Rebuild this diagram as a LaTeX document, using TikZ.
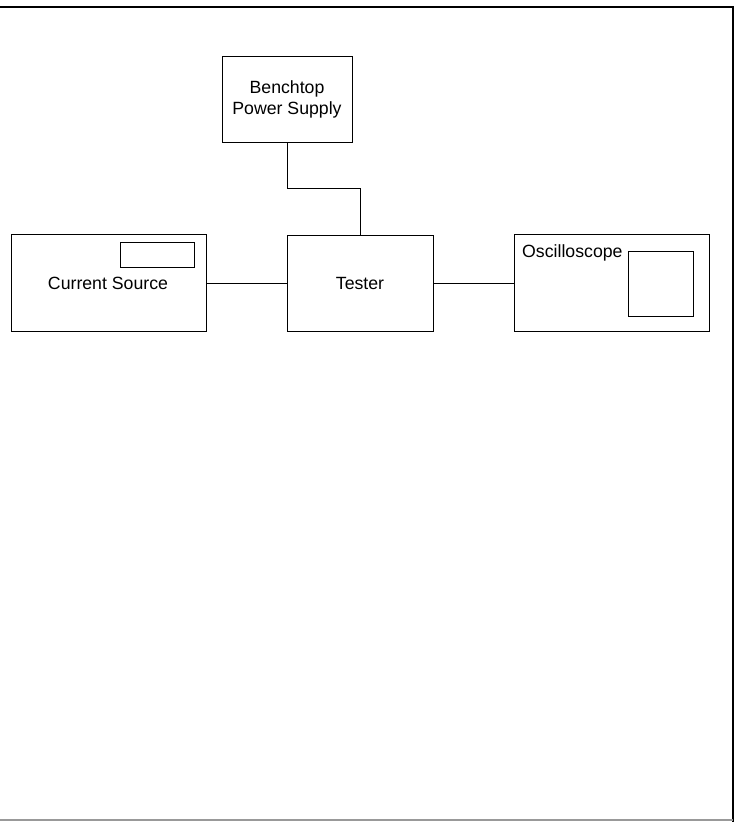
\documentclass[tikz,border=0pt]{standalone}
\usepackage{fontspec}
\setmainfont{Liberation Sans}
\begin{document}
\begin{tikzpicture}[x=1pt,y=-1pt,
  box/.style={draw=black,line width=1pt,inner sep=0pt,align=center,
    font=\fontsize{17.7}{21}\selectfont},
  wire/.style={draw=black,line width=1pt}]
\useasboundingbox (0,0) rectangle (735,822);
% frame
\draw[line width=2.5pt] (0,7) -- (733,7) -- (733,822);
\draw[gray!80,line width=1.5pt] (0,820) -- (733,820);
% boxes
\node[box,minimum width=130pt,minimum height=86pt] (ps) at (287,99) {Benchtop\\Power Supply};
\node[box,minimum width=195pt,minimum height=97pt] (cs) at (108.5,283) {};
\node[font=\fontsize{17.7}{21}\selectfont] (cst) at (108,283) {Current Source};
\node[draw,line width=1pt,minimum width=74pt,minimum height=25pt,inner sep=0pt] (csd) at (157,254.5) {};
\node[box,minimum width=146pt,minimum height=96pt] (ts) at (360,283) {Tester};
\node[box,minimum width=195pt,minimum height=97pt] (os) at (611.5,283) {};
\node[font=\fontsize{17.7}{21}\selectfont,anchor=west,inner sep=0pt] (ost) at (522,253) {Oscilloscope};
\node[draw,line width=1pt,minimum width=65pt,minimum height=65pt,inner sep=0pt] (osd) at (660.5,283.5) {};
% wires
\coordinate (b1) at (287,188);
\coordinate (b2) at (360,188);
\draw[wire] (ps.south) -- (b1) -- (b2) -- (ts.north);
\draw[wire] (cs.east) -- (ts.west);
\draw[wire] (ts.east) -- (os.west);
\end{tikzpicture}
\end{document}
